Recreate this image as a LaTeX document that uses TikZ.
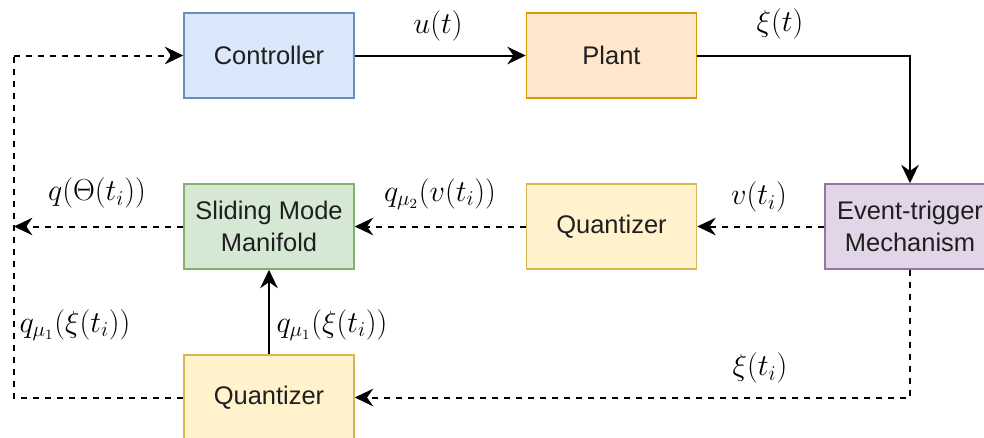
\documentclass[tikz,border=0pt]{standalone}
\usepackage{fontspec}
\newfontfamily\boxfont{Liberation Sans}
\usetikzlibrary{arrows.meta}

\newlength{\du}
\setlength{\du}{0.02cm}

\definecolor{ctrlfill}{HTML}{DAE8FC}\definecolor{ctrlline}{HTML}{6C8EBF}
\definecolor{plantfill}{HTML}{FFE6CC}\definecolor{plantline}{HTML}{D79B00}
\definecolor{smmfill}{HTML}{D5E8D4}\definecolor{smmline}{HTML}{82B366}
\definecolor{quantfill}{HTML}{FFF2CC}\definecolor{quantline}{HTML}{D6B656}
\definecolor{evtfill}{HTML}{E1D5E7}\definecolor{evtline}{HTML}{9673A6}

\tikzset{
  block/.style={draw, line width=1.5\du, minimum width=170\du, minimum height=85\du,
    inner sep=0pt, align=center, text=black!88,
    font=\boxfont\fontsize{14.5}{18}\selectfont},
  sig/.style={line width=2\du, line join=miter,
    -{Stealth[length=10.5pt,width=10pt,inset=3.5pt]}},
  dsig/.style={sig, dash pattern=on 6\du off 6\du},
  dline/.style={line width=2\du, dash pattern=on 6\du off 6\du},
  lbl/.style={font=\fontsize{16.8}{20}\selectfont, inner sep=0pt}
}

\begin{document}
\begin{tikzpicture}
\pgftransformxscale{1.000000}
\pgftransformyscale{-1.000000}
\useasboundingbox (0\du,0\du) rectangle (984\du,437\du);

% blocks
\node[block, fill=ctrlfill, draw=ctrlline] (ctrl) at (269\du,55.5\du) {Controller};
\node[block, fill=plantfill, draw=plantline] (plant) at (611.5\du,55.5\du) {Plant};
\node[block, fill=smmfill, draw=smmline] (smm) at (269\du,226.5\du) {Sliding Mode\\Manifold};
\node[block, fill=quantfill, draw=quantline] (qtop) at (611.5\du,226.5\du) {Quantizer};
\node[block, fill=evtfill, draw=evtline] (evt) at (910\du,226.5\du) {Event-trigger\\Mechanism};
\node[block, fill=quantfill, draw=quantline] (qbot) at (269\du,397.5\du) {Quantizer};

% corners of the feedback loop on the left
\coordinate (out) at (14\du,226.5\du);
\coordinate (lb) at (14\du,397.5\du);
\coordinate (lt) at (14\du,55.5\du);

% signals
\draw[sig] (ctrl) -- (plant);
\draw[sig] (plant.east) -| (evt.north);
\draw[dsig] (evt) -- (qtop);
\draw[dsig] (qtop) -- (smm);
\draw[dsig] (smm.west) -- (out);
\draw[dsig] (evt.south) |- (qbot.east);
\draw[sig] (qbot) -- (smm);
\draw[dline] (qbot.west) -- (lb) -- (lt);
\draw[dsig] (lt) -- (ctrl.west);

% labels
\node[lbl] (lu) at (438\du,26\du) {$u(t)$};
\node[lbl] (lxi) at (780\du,24\du) {$\xi(t)$};
\node[lbl] (lv) at (759\du,197\du) {$v(t_i)$};
\node[lbl] (lq2) at (440\du,194\du) {$q_{\mu_2}(v(t_i))$};
\node[lbl] (lth) at (97\du,193\du) {$q(\Theta(t_i))$};
\node[lbl] (lq1a) at (75\du,325\du) {$q_{\mu_1}(\xi(t_i))$};
\node[lbl] (lq1b) at (332\du,325\du) {$q_{\mu_1}(\xi(t_i))$};
\node[lbl] (lxii) at (760\du,368\du) {$\xi(t_i)$};
\end{tikzpicture}
\end{document}
